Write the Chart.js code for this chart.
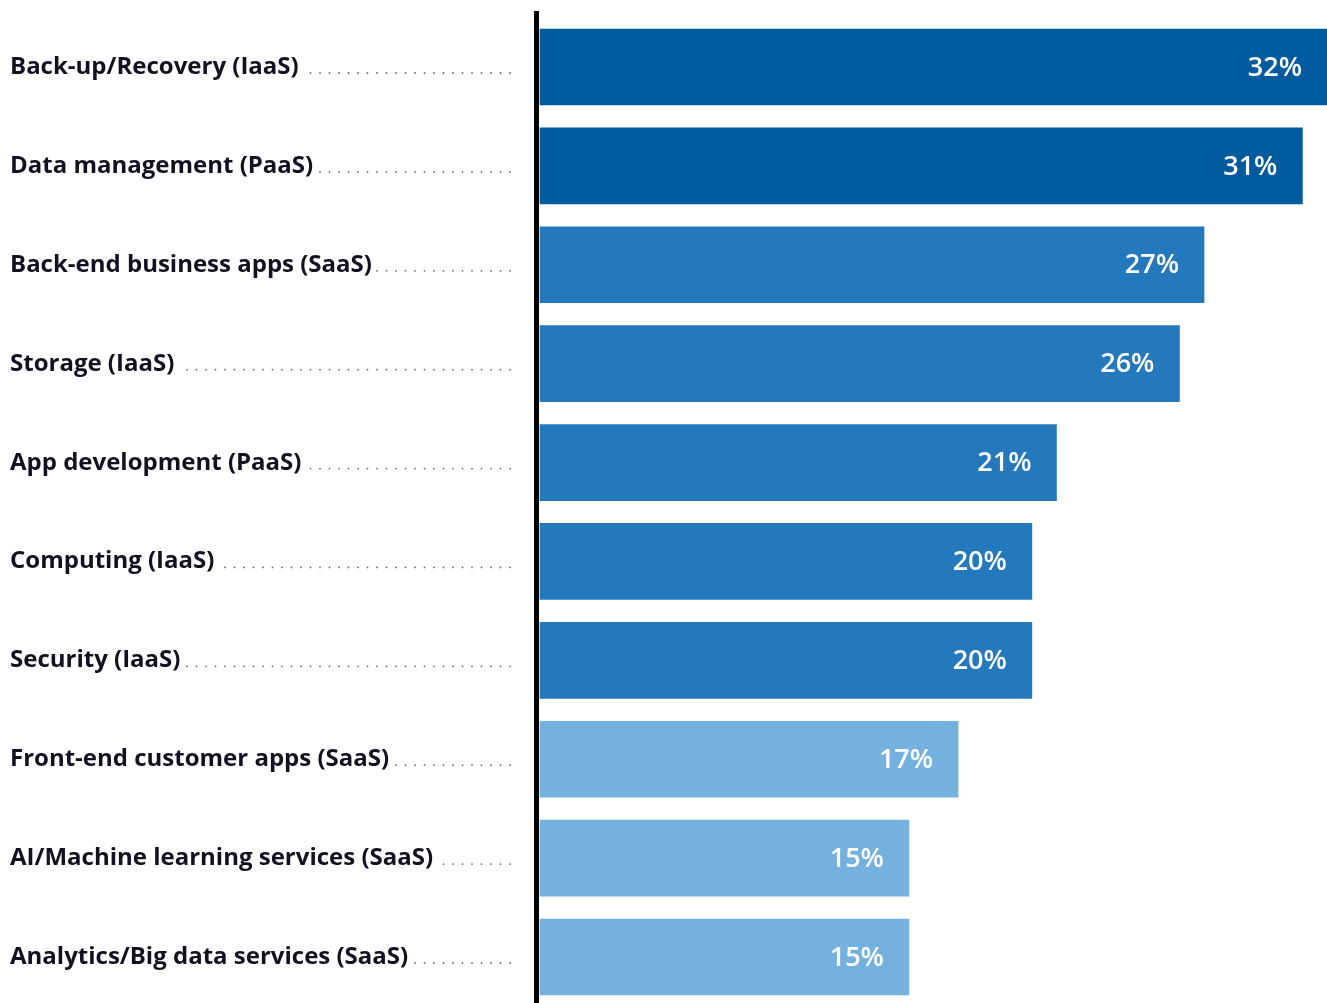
<!DOCTYPE html>
<html>
<head>
<meta charset="utf-8">
<style>
  html, body { margin: 0; padding: 0; background: #ffffff; }
  #wrap { width: 1327px; height: 1003px; position: relative; }
</style>
</head>
<body>
<div id="wrap"><canvas id="cloudChart"></canvas></div>
<script src="https://cdn.jsdelivr.net/npm/chart.js"></script>
<script>
  const categories = [
    "Back-up/Recovery (IaaS)",
    "Data management (PaaS)",
    "Back-end business apps (SaaS)",
    "Storage (IaaS)",
    "App development (PaaS)",
    "Computing (IaaS)",
    "Security (IaaS)",
    "Front-end customer apps (SaaS)",
    "AI/Machine learning services (SaaS)",
    "Analytics/Big data services (SaaS)"
  ];
  const shares = [32, 31, 27, 26, 21, 20, 20, 17, 15, 15];
  const barColors = [
    "#005b9e", "#005b9e",
    "#2479bd", "#2479bd", "#2479bd", "#2479bd", "#2479bd",
    "#74b1df", "#74b1df", "#74b1df"
  ];

  const LABEL_FONT = "700 24px 'Open Sans', sans-serif";
  const VALUE_FONT = "600 27px 'Open Sans', sans-serif";

  // category names with dotted leaders, plus the black baseline
  const sideLabels = {
    id: "sideLabels",
    afterDraw(chart) {
      const { ctx, chartArea, scales } = chart;
      ctx.save();
      ctx.fillStyle = "#000000";
      ctx.fillRect(chartArea.left - 6, 11, 5, chart.height - 11);

      ctx.font = LABEL_FONT;
      ctx.textBaseline = "alphabetic";
      categories.forEach((name, i) => {
        const y = scales.y.getPixelForValue(i) + 7;
        ctx.fillStyle = "#111122";
        ctx.textAlign = "left";
        ctx.fillText(name, 10, y);
        const end = 10 + ctx.measureText(name).width;
        ctx.fillStyle = "#6a6a72";
        for (let x = 510; x > end + 4; x -= 9.5) {
          ctx.beginPath();
          ctx.arc(x, y - 1, 0.9, 0, Math.PI * 2);
          ctx.fill();
        }
      });
      ctx.restore();
    }
  };

  // percentage inside each bar, right aligned
  const valueLabels = {
    id: "valueLabels",
    afterDatasetsDraw(chart) {
      const { ctx } = chart;
      const meta = chart.getDatasetMeta(0);
      ctx.save();
      ctx.font = VALUE_FONT;
      ctx.fillStyle = "#ffffff";
      ctx.textAlign = "right";
      ctx.textBaseline = "middle";
      meta.data.forEach((bar, i) => {
        ctx.fillText(shares[i] + "%", bar.x - 25, bar.y + 1);
      });
      ctx.restore();
    }
  };

  new Chart(document.getElementById("cloudChart"), {
    type: "bar",
    data: {
      labels: categories,
      datasets: [{
        data: shares,
        backgroundColor: barColors,
        borderWidth: 0,
        barThickness: 76,
        clip: false
      }]
    },
    options: {
      indexAxis: "y",
      responsive: true,
      maintainAspectRatio: false,
      animation: false,
      layout: { padding: { left: 540, right: 0, top: 67, bottom: 46 } },
      scales: {
        x: { display: false, min: 0, max: 32 },
        y: { display: false, offset: false }
      },
      plugins: {
        legend: { display: false },
        tooltip: { enabled: false }
      }
    },
    plugins: [sideLabels, valueLabels]
  });
</script>
</body>
</html>
